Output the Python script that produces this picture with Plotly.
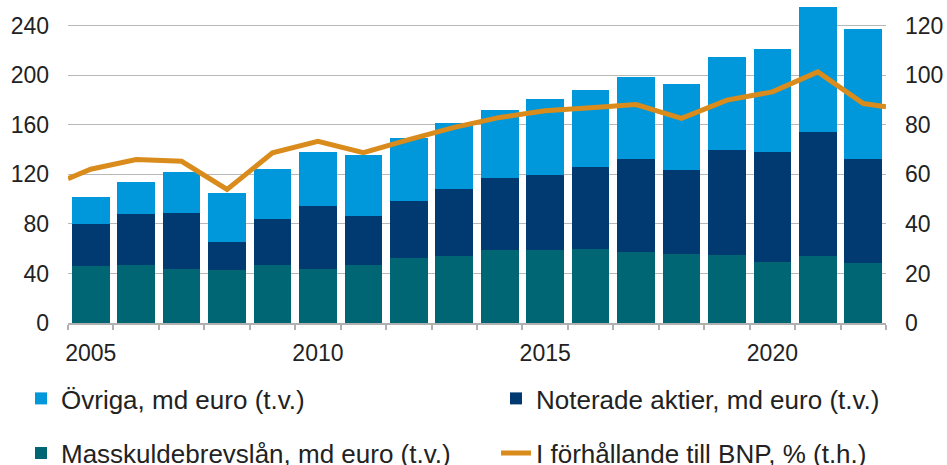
import plotly.graph_objects as go

# Årsdata 2005–2022
years = list(range(2005, 2023))
masskuldebrevslan = [46.1, 46.6, 43.4, 42.6, 46.6, 43.6, 47.2, 52.8, 54.4, 58.7,
                     58.7, 60.1, 57.7, 55.5, 55.3, 49.6, 53.9, 48.2]
noterade_aktier = [33.7, 41.8, 45.8, 23.2, 37.2, 50.9, 39.6, 45.8, 53.9, 58.5,
                   60.9, 66.0, 74.6, 67.9, 84.3, 88.1, 100.4, 84.1]
ovriga = [21.8, 25.6, 32.6, 38.8, 40.4, 43.2, 49.0, 50.7, 53.3, 54.7,
          60.9, 62.0, 66.5, 69.2, 75.4, 83.5, 100.6, 105.0]
andel_bnp = [62.1, 66.0, 65.3, 53.9, 68.7, 73.3, 68.8, 74.0, 79.0, 83.0,
             85.7, 86.9, 88.2, 82.6, 90.0, 93.3, 101.4, 88.6]
# linjens värden vid diagrammets kanter
bnp_start = 58.3
bnp_end = 87.3

left_ticks = [0, 40, 80, 120, 160, 200, 240]
right_ticks = [0, 20, 40, 60, 80, 100, 120]
year_labels = [2005, 2010, 2015, 2020]

C_OVR = "#0098da"
C_NOT = "#003a70"
C_MAS = "#006674"
C_BNP = "#d98b1c"
FONT = "Liberation Sans, Arial, sans-serif"
TXT = "#222222"

fig = go.Figure()
fig.add_trace(go.Bar(x=years, y=masskuldebrevslan, name="Masskuldebrevslån, md euro (t.v.)",
                     marker=dict(color=C_MAS, line=dict(width=0)), legend="legend4"))
fig.add_trace(go.Bar(x=years, y=noterade_aktier, name="Noterade aktier, md euro (t.v.)",
                     marker=dict(color=C_NOT, line=dict(width=0)), legend="legend3"))
fig.add_trace(go.Bar(x=years, y=ovriga, name="Övriga, md euro (t.v.)",
                     marker=dict(color=C_OVR, line=dict(width=0)), legend="legend2"))

line_x = [years[0] - 0.5] + years + [years[-1] + 0.5]
line_y = [bnp_start] + andel_bnp + [bnp_end]
fig.add_trace(go.Scatter(x=line_x, y=line_y, mode="lines", yaxis="y2",
                         name="I förhållande till BNP, % (t.h.)",
                         line=dict(color=C_BNP, width=5), legend="legend5"))

leg_common = dict(orientation="h", xref="container", yref="container",
                  xanchor="left", yanchor="middle", bgcolor="rgba(0,0,0,0)",
                  font=dict(family=FONT, size=26, color=TXT))
fig.update_layout(
    width=947, height=465,
    margin=dict(l=68, r=61, t=1, b=142),
    paper_bgcolor="white", plot_bgcolor="white",
    barmode="stack", bargap=0.17,
    showlegend=True,
    font=dict(family=FONT, color=TXT),
    legend2=dict(x=21 / 947, y=1 - 398.5 / 465, **leg_common),
    legend3=dict(x=496 / 947, y=1 - 398.5 / 465, **leg_common),
    legend4=dict(x=21 / 947, y=1 - 453 / 465, **leg_common),
    legend5=dict(x=496 / 947, y=1 - 453 / 465, **leg_common),
    xaxis=dict(range=[years[0] - 0.5, years[-1] + 0.5], tickvals=year_labels,
               ticktext=[str(v) for v in year_labels], ticks="",
               tickfont=dict(family=FONT, size=23, color=TXT),
               showgrid=False, zeroline=False,
               showline=True, linecolor="#b0b0b0", linewidth=1.5,
               minor=dict(tick0=years[0] - 0.5, dtick=1, ticks="outside",
                          ticklen=5, tickcolor="#b0b0b0", tickwidth=1.5, showgrid=False),
               ticklabelstandoff=9),
    yaxis=dict(range=[0, 260], tickvals=left_ticks, showgrid=True,
               gridcolor="#b8b8b8", gridwidth=1, zeroline=False,
               tickfont=dict(family=FONT, size=23, color=TXT), ticks="",
               ticklabelstandoff=18),
    yaxis2=dict(range=[0, 130], tickvals=right_ticks, overlaying="y", side="right",
                showgrid=False, zeroline=False,
                tickfont=dict(family=FONT, size=23, color=TXT), ticks="",
                ticklabelstandoff=18),
)

fig.write_html("out.html")
